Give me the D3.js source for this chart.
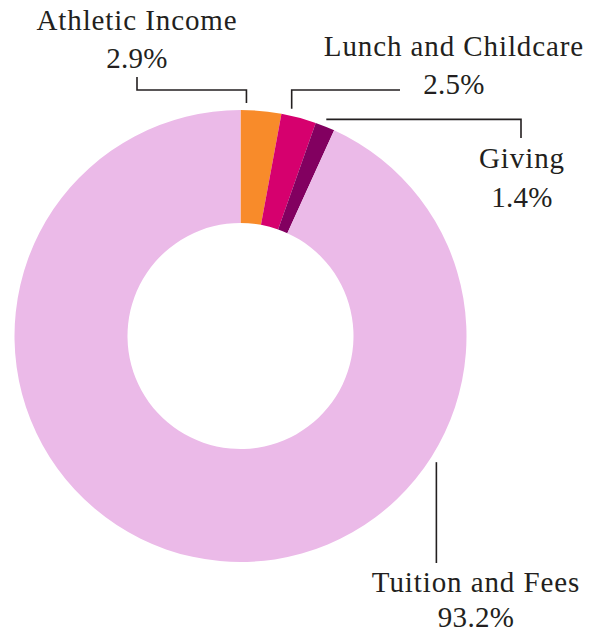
<!DOCTYPE html>
<html>
<head>
<meta charset="utf-8">
<script src="https://cdn.jsdelivr.net/npm/d3@7/dist/d3.min.js"></script>
<style>
  html, body { margin: 0; padding: 0; background: #fff; }
  svg { display: block; }
</style>
</head>
<body>
<svg id="chart" width="605" height="634"></svg>
<script>
// ---- data ----
const categories = ["Athletic Income", "Lunch and Childcare", "Giving", "Tuition and Fees"];
const values = [2.9, 2.5, 1.4, 93.2];
const valueLabels = ["2.9%", "2.5%", "1.4%", "93.2%"];
const colors = ["#F88B2A", "#D6006E", "#820060", "#EBBAE8"];

// ---- layout (annotation placement) ----
const cx = 240.5, cy = 336, outerR = 226, innerR = 113;
const FONT = "'Liberation Serif', 'Times New Roman', serif";
const leaders = [
  { f: 0.14, route: (s) => [[s[0], s[1]], [s[0], 90], [137, 90], [137, 77]], label: [137, 30], gap: 38 },
  { f: 0.25, route: (s) => [[s[0], s[1]], [s[0], 90], [400, 90]], label: [454, 56], gap: 38 },
  { f: 0.43, route: (s) => [[s[0], s[1]], [521, s[1]], [521, 138]], label: [522, 168], gap: 39 },
  { f: 0.293, route: (s) => [[s[0], s[1]], [s[0], 563]], label: [476, 592], gap: 35 }
];

const svg = d3.select("#chart");
const g = svg.append("g").attr("transform", `translate(${cx},${cy})`);

const pie = d3.pie().sort(null).value(d => d.v);
const data = categories.map((c, i) => ({ c, v: values[i], lbl: valueLabels[i], col: colors[i] }));
const arcs = pie(data);

const arc = d3.arc().innerRadius(innerR).outerRadius(outerR);

g.selectAll("path.slice")
  .data(arcs)
  .enter().append("path")
  .attr("class", "slice")
  .attr("d", arc)
  .attr("fill", d => d.data.col);

const line = d3.line();
arcs.forEach((a, i) => {
  const L = leaders[i];
  const ang = a.startAngle + L.f * (a.endAngle - a.startAngle);
  const r = outerR + 7;
  const s = [cx + r * Math.sin(ang), cy - r * Math.cos(ang)];
  svg.append("path")
    .attr("d", line(L.route(s)))
    .attr("fill", "none")
    .attr("stroke", "#231f20")
    .attr("stroke-width", 1.6);

  const t = svg.append("text")
    .attr("x", L.label[0])
    .attr("y", L.label[1])
    .attr("text-anchor", "middle")
    .attr("font-family", FONT)
    .attr("fill", "#231f20")
    .attr("font-size", 29);
  t.append("tspan").attr("x", L.label[0]).attr("dy", 0).style("letter-spacing", "0.9px").text(a.data.c);
  t.append("tspan").attr("x", L.label[0]).attr("dy", L.gap).style("letter-spacing", "0.3px").text(a.data.lbl);
});
</script>
</body>
</html>
